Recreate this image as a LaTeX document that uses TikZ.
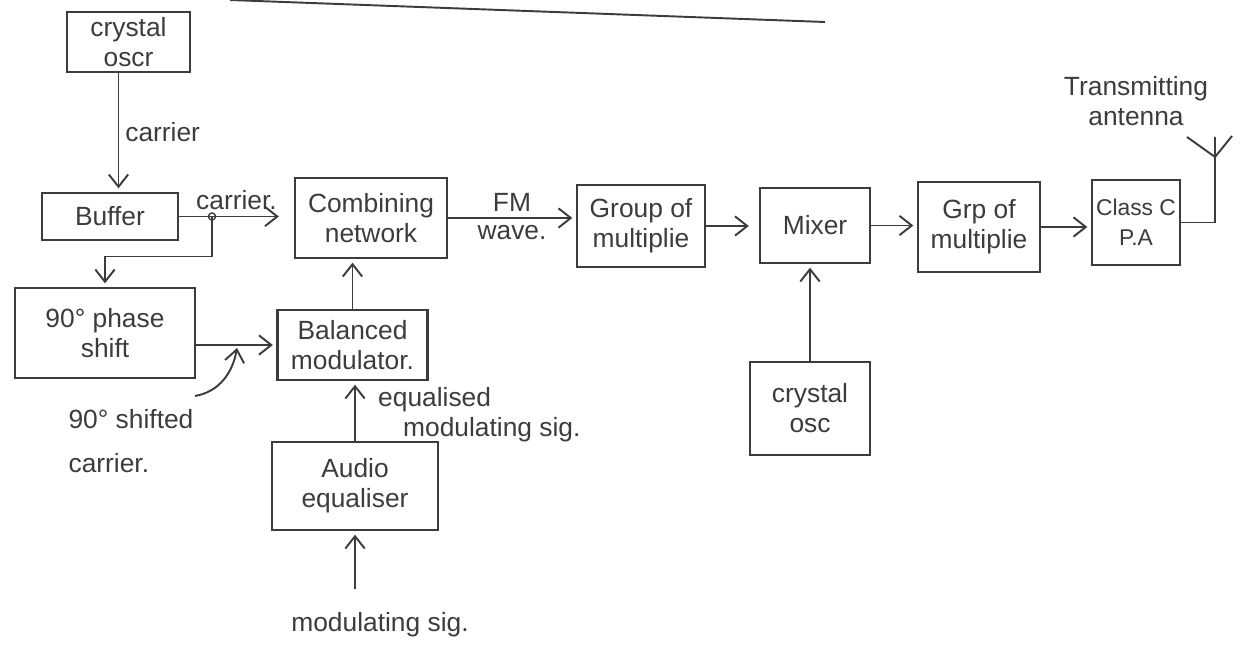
\documentclass[tikz,border=0pt]{standalone}
\usepackage{fontspec}
\setmainfont{Liberation Sans}
\usetikzlibrary{arrows.meta}
\definecolor{pencil}{RGB}{60, 60, 60}

\begin{document}
\begin{tikzpicture}[
  box/.style={draw=pencil, line width=1.3pt, align=center, inner sep=2pt, text=pencil, font=\fontsize{15}{17}\selectfont},
  lbl/.style={text=pencil, align=center, font=\fontsize{15}{17}\selectfont},
  arrow/.style={->, >={Straight Barb[length=7pt, width=11pt]}, line width=1.1pt, draw=pencil, shorten >=2pt},
]
\useasboundingbox (0,0) rectangle (24.92,13.24);

% stray stroke at the top
\draw[pencil, line width=1.1pt] (4.6,13.24) -- (16.5,12.8);

% carrier path
\node[box, minimum width=2.46cm, minimum height=1.2cm] (osc1) at (2.57,12.4) {crystal\\oscr};
\node[box, minimum width=2.72cm, minimum height=0.94cm] (buf) at (2.2,8.91) {Buffer};
\node[box, minimum width=3.6cm, minimum height=1.8cm] (phase) at (2.1,6.58) {90° phase\\shift};
\node[box, minimum width=3.04cm, minimum height=1.6cm] (comb) at (7.42,8.88) {Combining\\network};

% modulating path
\node[box, minimum width=3.0cm, minimum height=1.4cm] (bal) at (7.05,6.34) {Balanced\\modulator.};
\node[box, minimum width=3.32cm, minimum height=1.76cm] (aud) at (7.1,3.52) {Audio\\equaliser};

% multiplier chain
\node[box, minimum width=2.56cm, minimum height=1.64cm] (grp1) at (12.82,8.72) {Group of\\multiplie};
\node[box, minimum width=2.2cm, minimum height=1.5cm] (mix) at (16.3,8.73) {Mixer};
\node[box, minimum width=2.4cm, minimum height=1.86cm] (osc2) at (16.2,5.07) {crystal\\osc};
\node[box, minimum width=2.44cm, minimum height=1.8cm] (grp2) at (19.58,8.7) {Grp of\\multiplie};
\node[box, minimum width=1.76cm, minimum height=1.7cm, font=\fontsize{13}{17}\selectfont] (pa) at (22.72,8.79) {Class C\\P.A};

% free labels
\node[lbl, align=left] (shl) at (2.62,4.42) {90° shifted\\[8pt]carrier.};
\node[lbl, align=left, anchor=north west] (eqlbl) at (7.44,5.62) {equalised\\\hspace{0.5cm}modulating sig.};
\node[lbl] (msig) at (7.6,0.74) {modulating sig.};
\node[lbl] (antlbl) at (22.72,11.22) {Transmitting\\antenna};

% Arrows
\draw[arrow] ([xshift=-0.2cm]osc1.south) -- ([xshift=-0.2cm]osc1.south |- buf.north) node[midway, right, lbl] {carrier};
\draw[arrow, shorten >=0.3cm] (buf.east) -- (buf.east -| comb.west) node[midway, above, lbl] {carrier.};
\coordinate (tap) at (4.24,8.91);
\draw[pencil, line width=0.8pt] (tap) circle (2pt);
\draw[arrow] (tap) -- ++(0,-0.8) -| (phase.north);
\draw[arrow] (phase.east |- bal.west) -- (bal.west);
\coordinate (cvs) at (3.9,5.32);
\coordinate (cve) at (4.74,6.28);
\draw[arrow, shorten >=0pt] (cvs) to[out=10, in=-100] (cve);
\draw[arrow] (bal.north) -- (bal.north |- comb.south);
\draw[arrow] (aud.north) -- (aud.north |- bal.south);
\draw[arrow, shorten <=10pt] (aud.south |- msig.north) -- (aud.south);
\draw[arrow] (comb.east) -- (comb.east -| grp1.west) node[midway, above, lbl] {FM} node[midway, below, lbl] {wave.};
\draw[arrow, shorten >=0.2cm] (grp1.east) -- (grp1.east -| mix.west);
\draw[arrow] (mix.east) -- (mix.east -| grp2.west);
\draw[arrow] (grp2.east) -- (grp2.east -| pa.west);
\draw[arrow] (osc2.north) -- (osc2.north |- mix.south);

% antenna
\coordinate (ant) at (24.3,10.1);
\draw[pencil, line width=1.1pt] (pa.east) -| (ant);
\draw[pencil, line width=1.1pt] (ant) -- ++(0,0.4) (ant) -- ++(-0.56,0.4) (ant) -- ++(0.34,0.42);
\end{tikzpicture}
\end{document}
